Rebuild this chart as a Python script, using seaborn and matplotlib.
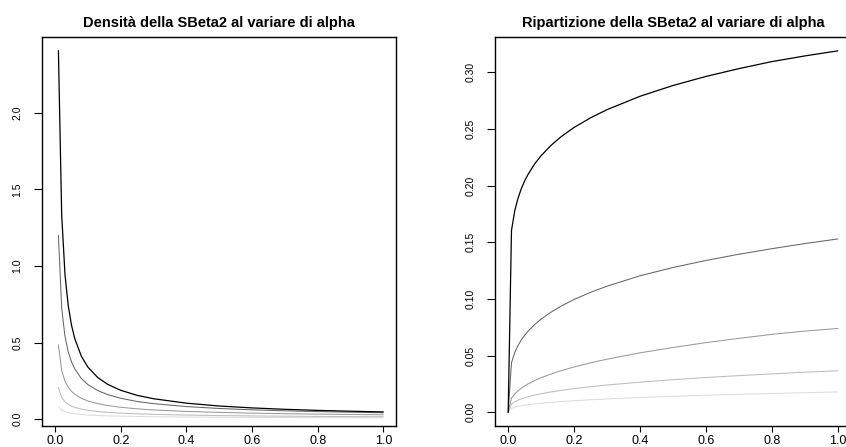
import numpy as np
import pandas as pd
import matplotlib
matplotlib.use("Agg")
import matplotlib.pyplot as plt
import seaborn as sns

# Evaluation points on (0, 1]
x_vals = [0.01, 0.02, 0.03, 0.04, 0.05, 0.06, 0.08, 0.1, 0.13, 0.16, 0.2,
          0.25, 0.3, 0.4, 0.5, 0.6, 0.7, 0.8, 0.9, 1.0]

# Density of SBeta2, one series per alpha value
dens_a1 = [2.406, 1.334, 0.946, 0.741, 0.613, 0.525, 0.411, 0.340, 0.272, 0.228,
           0.189, 0.156, 0.134, 0.105, 0.0865, 0.0741, 0.0650, 0.0580, 0.0525, 0.048]
dens_a2 = [1.201, 0.726, 0.541, 0.440, 0.374, 0.328, 0.266, 0.226, 0.187, 0.161,
           0.137, 0.116, 0.102, 0.0828, 0.0704, 0.0617, 0.0552, 0.0501, 0.0460, 0.0426]
dens_a3 = [0.486, 0.319, 0.249, 0.209, 0.182, 0.163, 0.137, 0.119, 0.102, 0.0896,
           0.0782, 0.0682, 0.0611, 0.0512, 0.0447, 0.0400, 0.0364, 0.0336, 0.0312, 0.0293]
dens_a4 = [0.208, 0.142, 0.1135, 0.0969, 0.0857, 0.0775, 0.0662, 0.0585, 0.0507, 0.0452,
           0.0400, 0.0354, 0.0320, 0.0273, 0.0242, 0.0218, 0.0201, 0.0187, 0.0175, 0.0165]
dens_a5 = [0.0827, 0.0597, 0.0494, 0.0431, 0.0388, 0.0356, 0.0311, 0.0280, 0.0248, 0.0225,
           0.0202, 0.0182, 0.0167, 0.0146, 0.0132, 0.0121, 0.0112, 0.0106, 0.0100, 0.0095]

# Distribution function (starts from 0 at x = 0)
cdf_x = [0.0] + x_vals
cdf_a1 = [0.0, 0.1604, 0.1780, 0.1891, 0.1975, 0.2042, 0.2098, 0.2191, 0.2265, 0.2356, 0.2431,
          0.2514, 0.2599, 0.2671, 0.2789, 0.2884, 0.2964, 0.3033, 0.3095, 0.3145, 0.3190]
cdf_a2 = [0.0, 0.0437, 0.0529, 0.0591, 0.0640, 0.0680, 0.0715, 0.0774, 0.0823, 0.0884, 0.0936,
          0.0996, 0.1059, 0.1113, 0.1205, 0.1278, 0.1340, 0.1395, 0.1444, 0.1489, 0.1530]
cdf_a3 = [0.0, 0.0125, 0.0163, 0.0191, 0.0214, 0.0233, 0.0250, 0.0280, 0.0306, 0.0338, 0.0367,
          0.0400, 0.0437, 0.0469, 0.0525, 0.0572, 0.0615, 0.0653, 0.0688, 0.0717, 0.0740]
cdf_a4 = [0.0, 0.0073, 0.0093, 0.0108, 0.0119, 0.0129, 0.0137, 0.0152, 0.0164, 0.0180, 0.0193,
          0.0209, 0.0226, 0.0241, 0.0266, 0.0288, 0.0307, 0.0324, 0.0339, 0.0354, 0.0367]
cdf_a5 = [0.0, 0.0036, 0.0046, 0.0053, 0.0058, 0.0063, 0.0067, 0.0074, 0.0080, 0.0088, 0.0095,
          0.0102, 0.0111, 0.0118, 0.0131, 0.0141, 0.0151, 0.0159, 0.0166, 0.0173, 0.0180]

series_names = ["a1", "a2", "a3", "a4", "a5"]
grey_levels = ["#000000", "#666666", "#999999", "#bdbdbd", "#dcdcdc"]
line_widths = [0.9, 0.75, 0.75, 0.75, 0.75]

sns.set_style("white", {"text.color": "black", "xtick.color": "black",
                        "ytick.color": "black", "axes.edgecolor": "black",
                        "axes.labelcolor": "black"})
plt.rcParams["font.family"] = ["Liberation Sans", "DejaVu Sans"]

fig = plt.figure(figsize=(8.46, 4.47), dpi=100)
W, H = 846, 447
ax1 = fig.add_axes([42 / W, (H - 425.7) / H, 354.4 / W, 388.7 / H])
ax2 = fig.add_axes([495 / W, (H - 425.7) / H, 356 / W, 388.7 / H])

dens_series = [dens_a1, dens_a2, dens_a3, dens_a4, dens_a5]
cdf_series = [cdf_a1, cdf_a2, cdf_a3, cdf_a4, cdf_a5]

# draw lighter curves first so the darker ones stay on top
for i in reversed(range(5)):
    d = pd.DataFrame({"x": x_vals, "y": dens_series[i]})
    sns.lineplot(data=d, x="x", y="y", color=grey_levels[i], linewidth=line_widths[i],
                 ax=ax1, estimator=None, sort=False)
    c = pd.DataFrame({"x": cdf_x, "y": cdf_series[i]})
    sns.lineplot(data=c, x="x", y="y", color=grey_levels[i], linewidth=line_widths[i],
                 ax=ax2, estimator=None, sort=False)

ax1.set_xlim(-0.04, 1.04)
ax1.set_ylim(-0.042, 2.495)
ax1.set_yticks([0.0, 0.5, 1.0, 1.5, 2.0])
ax1.set_yticklabels(["0.0", "0.5", "1.0", "1.5", "2.0"])

ax2.set_xlim(-0.04, 1.04)
ax2.set_ylim(-0.0118, 0.3312)
ax2.set_yticks([0.0, 0.05, 0.10, 0.15, 0.20, 0.25, 0.30])
ax2.set_yticklabels(["0.00", "0.05", "0.10", "0.15", "0.20", "0.25", "0.30"])

xt = [0.0, 0.2, 0.4, 0.6, 0.8, 1.0]
for ax, title in [(ax1, "Densità della SBeta2 al variare di alpha"),
                  (ax2, "Ripartizione della SBeta2 al variare di alpha")]:
    ax.set_xticks(xt)
    ax.set_xticklabels([f"{v:.1f}" for v in xt])
    ax.set_xlabel("")
    ax.set_ylabel("")
    ax.set_title(title, fontsize=10.5, fontweight="bold", pad=7, color="black")
    for s in ax.spines.values():
        s.set_visible(True)
        s.set_color("black")
        s.set_linewidth(1.0)
    ax.tick_params(axis="x", direction="out", length=4.5, width=0.8,
                   pad=2.5, labelsize=9, bottom=True, colors="black")
    ax.tick_params(axis="y", direction="out", length=6, width=0.8,
                   pad=8, labelsize=7.5, left=True, colors="black")
    for lbl in ax.get_yticklabels():
        lbl.set_rotation(90)
        lbl.set_va("center")

fig.savefig("out.png", dpi=100)
